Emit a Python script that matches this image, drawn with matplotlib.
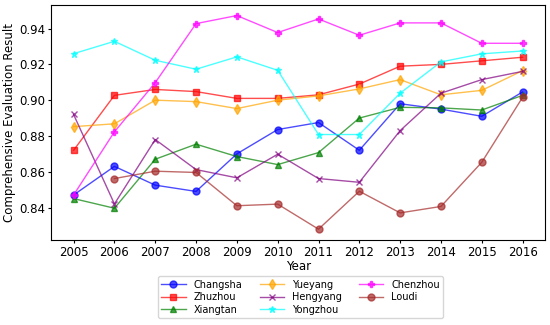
import numpy as np
import matplotlib
matplotlib.use("Agg")
import matplotlib.pyplot as plt

years = list(range(2005, 2017))

changsha = [0.847, 0.863, 0.8525, 0.849, 0.870, 0.8836, 0.8875, 0.872, 0.898, 0.895, 0.891, 0.9046]
zhuzhou = [0.872, 0.9027, 0.906, 0.9048, 0.901, 0.901, 0.903, 0.909, 0.919, 0.920, 0.922, 0.924]
xiangtan = [0.845, 0.8396, 0.867, 0.8754, 0.8685, 0.864, 0.8707, 0.890, 0.896, 0.8957, 0.8945, 0.9027]
yueyang = [0.8852, 0.8868, 0.900, 0.8992, 0.8953, 0.900, 0.9024, 0.9063, 0.9115, 0.903, 0.9055, 0.9165]
hengyang = [0.892, 0.842, 0.878, 0.8612, 0.8566, 0.8698, 0.8562, 0.8541, 0.883, 0.9039, 0.9115, 0.9161]
yongzhou = [0.926, 0.9329, 0.9223, 0.9173, 0.9242, 0.9167, 0.8808, 0.8808, 0.9039, 0.9214, 0.9259, 0.9275]
chenzhou = [0.847, 0.8823, 0.9098, 0.9428, 0.9473, 0.9378, 0.9454, 0.9363, 0.9432, 0.9432, 0.9318, 0.9318]
# Loudi has no value for 2005
loudi = [np.nan, 0.8562, 0.8603, 0.8596, 0.841, 0.8419, 0.8279, 0.8491, 0.837, 0.8406, 0.8653, 0.9016]

series = [
    ("Changsha", changsha, "blue", "o"),
    ("Zhuzhou", zhuzhou, "red", "s"),
    ("Xiangtan", xiangtan, "green", "^"),
    ("Yueyang", yueyang, "orange", "d"),
    ("Hengyang", hengyang, "purple", "x"),
    ("Yongzhou", yongzhou, "cyan", "*"),
    ("Chenzhou", chenzhou, "magenta", "P"),
    ("Loudi", loudi, "brown", "o"),
]

fig = plt.figure(figsize=(5.5, 3.25), dpi=100)
ax = fig.add_axes([0.093, 0.262, 0.898, 0.723])

for name, vals, col, mk in series:
    ax.plot(years, vals, color=col, marker=mk, markersize=5, linewidth=1,
            alpha=0.7, label=name)

ax.set_xticks(years)
ax.set_yticks([0.84, 0.86, 0.88, 0.90, 0.92, 0.94])
ax.tick_params(labelsize=8.5, length=2.5, pad=2)
ax.set_xlabel("Year", fontsize=8.5, labelpad=1)
ax.set_ylabel("Comprehensive Evaluation Result", fontsize=8.5, labelpad=2)

ax.legend(loc="upper center", bbox_to_anchor=(0.505, -0.135), ncol=3,
          fontsize=7, handlelength=2.5, columnspacing=1.8, labelspacing=0.25,
          borderpad=0.35)

fig.savefig("out.png", dpi=100)
